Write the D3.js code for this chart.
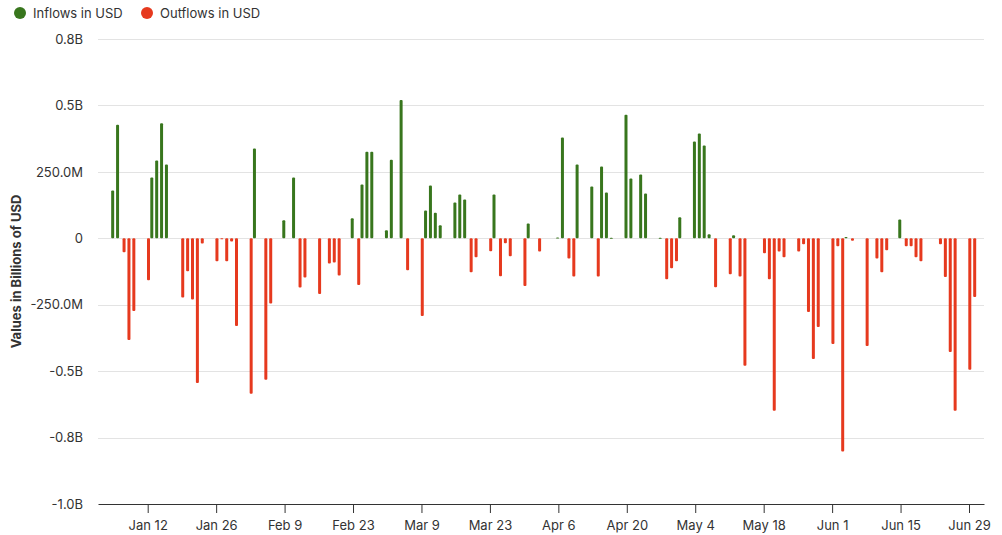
<!DOCTYPE html>
<html>
<head>
<meta charset="utf-8">
<script src="https://cdn.jsdelivr.net/npm/d3@7"></script>
<style>
  body { margin: 0; background: #fff; }
  text { font-family: Inter, "Noto Sans", sans-serif; fill: #333; }
</style>
</head>
<body>
<svg id="chart"></svg>
<script>
//////////////// Daten ////////////////////
// Werte in Milliarden USD, Datum als "MM-DD" (2026)
const inflows = [
  ["01-05", 0.18], ["01-06", 0.4275], ["01-13", 0.229], ["01-14", 0.2925], ["01-15", 0.4325],
  ["01-16", 0.2775], ["02-03", 0.3375], ["02-09", 0.0675], ["02-11", 0.229], ["02-23", 0.075],
  ["02-25", 0.2025], ["02-26", 0.326], ["02-27", 0.326], ["03-02", 0.03], ["03-03", 0.296],
  ["03-05", 0.52], ["03-10", 0.105], ["03-11", 0.199], ["03-12", 0.096], ["03-13", 0.049],
  ["03-16", 0.135], ["03-17", 0.165], ["03-18", 0.146], ["03-24", 0.165], ["03-31", 0.056],
  ["04-06", 0.003], ["04-07", 0.379], ["04-10", 0.2775], ["04-13", 0.195], ["04-15", 0.27],
  ["04-16", 0.1725], ["04-17", 0.002], ["04-20", 0.465], ["04-21", 0.225], ["04-23", 0.24],
  ["04-24", 0.169], ["04-27", 0.002], ["05-01", 0.079], ["05-04", 0.364], ["05-05", 0.394],
  ["05-06", 0.349], ["05-07", 0.015], ["05-12", 0.011], ["06-04", 0.005], ["06-15", 0.071]
];

const outflows = [
  ["01-07", -0.0525], ["01-08", -0.3825], ["01-09", -0.274], ["01-12", -0.1575], ["01-19", -0.2225],
  ["01-20", -0.124], ["01-21", -0.23], ["01-22", -0.545], ["01-23", -0.02], ["01-26", -0.086],
  ["01-27", -0.003], ["01-28", -0.086], ["01-29", -0.0125], ["01-30", -0.33], ["02-02", -0.585],
  ["02-05", -0.5325], ["02-06", -0.245], ["02-12", -0.185], ["02-13", -0.1475], ["02-16", -0.21],
  ["02-18", -0.095], ["02-19", -0.091], ["02-20", -0.14], ["02-24", -0.176], ["03-06", -0.12],
  ["03-09", -0.2925], ["03-19", -0.1275], ["03-20", -0.071], ["03-23", -0.049], ["03-25", -0.1425],
  ["03-26", -0.019], ["03-27", -0.0675], ["03-30", -0.18], ["04-02", -0.05], ["04-08", -0.076],
  ["04-09", -0.144], ["04-14", -0.144], ["04-28", -0.154], ["04-29", -0.1125], ["04-30", -0.086],
  ["05-08", -0.184], ["05-11", -0.135], ["05-13", -0.144], ["05-14", -0.48], ["05-18", -0.056],
  ["05-19", -0.154], ["05-20", -0.649], ["05-21", -0.05], ["05-22", -0.071], ["05-25", -0.05],
  ["05-26", -0.0225], ["05-27", -0.2775], ["05-28", -0.454], ["05-29", -0.334], ["06-01", -0.3975],
  ["06-02", -0.03], ["06-03", -0.8025], ["06-05", -0.009], ["06-08", -0.405], ["06-10", -0.076],
  ["06-11", -0.1275], ["06-12", -0.045], ["06-16", -0.03], ["06-17", -0.03], ["06-18", -0.071],
  ["06-19", -0.086], ["06-23", -0.0225], ["06-24", -0.146], ["06-25", -0.4275], ["06-26", -0.649],
  ["06-29", -0.495], ["06-30", -0.221]
];

const series = [
  {name: "Inflows in USD", farbe: "#38761d", data: inflows, offset: -0.8},
  {name: "Outflows in USD", farbe: "#e6391e", data: outflows, offset: 0.8}
];

const yTicks = [0.75, 0.5, 0.25, 0, -0.25, -0.5, -0.75, -1.0];
const yTickLabels = ["0.8B", "0.5B", "250.0M", "0", "-250.0M", "-0.5B", "-0.8B", "-1.0B"];
const xTicks = ["01-12", "01-26", "02-09", "02-23", "03-09", "03-23", "04-06",
  "04-20", "05-04", "05-18", "06-01", "06-15", "06-29"];

//////////////// Konstanten ////////////////////
const margin = {top: 39, right: 18, bottom: 31, left: 98},
  width = 1002 - margin.left - margin.right,
  height = 535 - margin.top - margin.bottom,
  barWidth = 3;

const parseDay = d3.timeParse("%Y-%m-%d");
const day = s => parseDay("2026-" + s);

////////////////// SVG ////////////
const svgRoot = d3.select("#chart")
  .attr("width", 1002)
  .attr("height", 535);
const svg = svgRoot.append("g")
  .attr("transform", "translate(" + margin.left + "," + margin.top + ")");

////////////////// Scaling ////////////
// Jan 12 und Jun 29 als Ankerpunkte, dann auf die ganze Breite erweitern
const xScale = d3.scaleTime()
  .domain([day("01-12"), day("06-29")])
  .range([147.7 - margin.left, 969 - margin.left]);
xScale.domain([xScale.invert(0), xScale.invert(width)]).range([0, width]);

const yScale = d3.scaleLinear()
  .domain([-1.0, 0.75])
  .range([height, 0]);

////////////////// Gitter ////////////
svg.append("g").attr("class", "grid")
  .selectAll("line")
  .data(yTicks.filter(d => d > -1.0))
  .enter()
  .append("line")
  .attr("x1", 0)
  .attr("x2", width)
  .attr("y1", d => Math.round(yScale(d)) + 0.5)
  .attr("y2", d => Math.round(yScale(d)) + 0.5)
  .attr("stroke", "#e3e3e3")
  .attr("stroke-width", 1);

////////////////// Achsen ////////////
const yAxis = d3.axisLeft(yScale)
  .tickValues(yTicks)
  .tickFormat((d, i) => yTickLabels[i])
  .tickSize(0)
  .tickPadding(15);
svg.append("g")
  .call(yAxis)
  .call(g => g.select(".domain").remove())
  .call(g => g.selectAll("text").attr("font-size", 13).attr("fill", "#333"));

const xAxis = d3.axisBottom(xScale)
  .tickValues(xTicks.map(day))
  .tickFormat(d3.timeFormat("%b %-d"))
  .tickSize(9)
  .tickSizeOuter(0)
  .tickPadding(8);
svg.append("g")
  .attr("transform", "translate(0," + height + ")")
  .call(xAxis)
  .call(g => g.select(".domain").attr("stroke", "#333"))
  .call(g => g.selectAll(".tick line").attr("stroke", "#333"))
  .call(g => g.selectAll("text").attr("font-size", 13).attr("fill", "#333"));

svgRoot.append("text")
  .attr("transform", "translate(21," + (margin.top + height / 2) + ") rotate(-90)")
  .attr("text-anchor", "middle")
  .attr("font-size", 13)
  .attr("font-weight", "bold")
  .text("Values in Billions of USD");

//////////////// Balken ///////////////
series.forEach(function(s) {
  svg.append("g").attr("class", "bars")
    .selectAll("rect")
    .data(s.data)
    .enter()
    .append("rect")
    .attr("x", d => xScale(day(d[0])) + s.offset - barWidth / 2)
    .attr("y", d => yScale(Math.max(0, d[1])))
    .attr("width", barWidth)
    .attr("height", d => Math.max(1, Math.abs(yScale(d[1]) - yScale(0))))
    .attr("rx", 1)
    .attr("fill", s.farbe);
});

//////////////// Legende ///////////////
const legende = svgRoot.append("g").attr("class", "legend")
  .selectAll("g")
  .data(series)
  .enter()
  .append("g")
  .attr("transform", (d, i) => "translate(" + (i === 0 ? 20 : 147) + ",13)");
legende.append("circle")
  .attr("r", 6)
  .attr("fill", d => d.farbe);
legende.append("text")
  .attr("x", 13)
  .attr("y", 4.5)
  .attr("font-size", 13)
  .text(d => d.name);
</script>
</body>
</html>
